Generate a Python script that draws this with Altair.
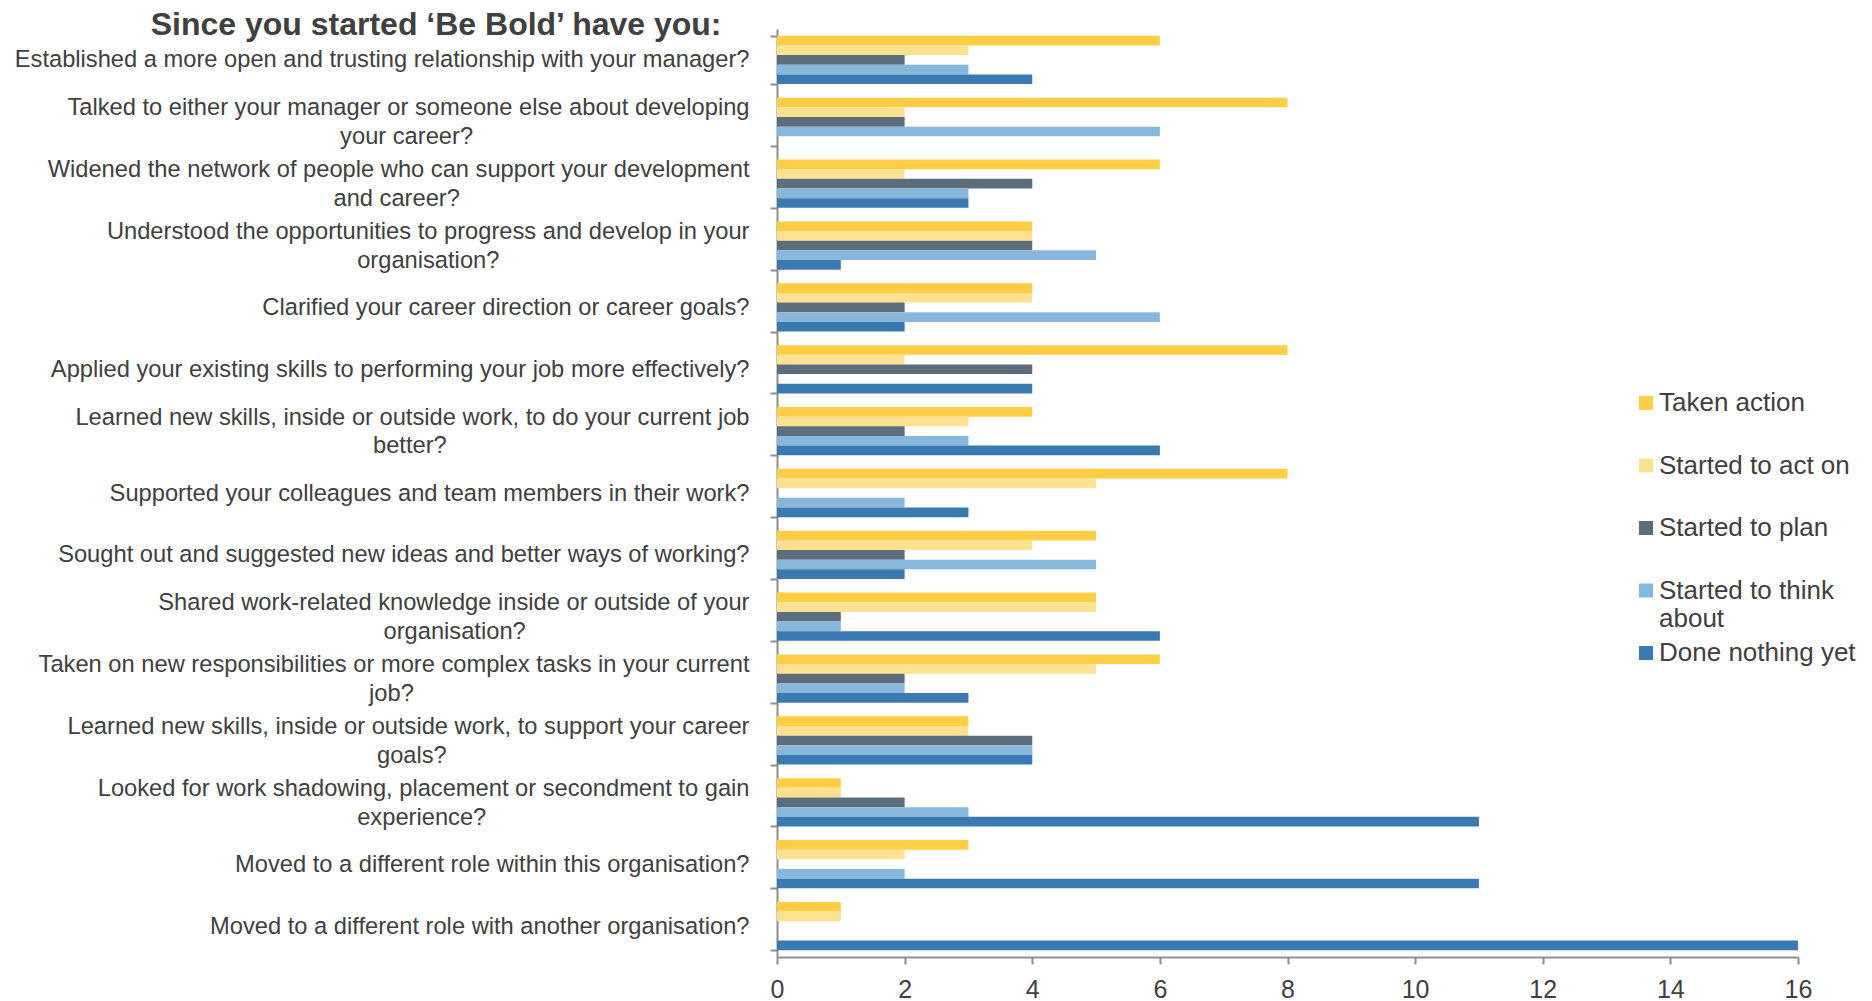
import altair as alt
import pandas as pd

# ---- data ----
question_lines = [
    ["Established a more open and trusting relationship with your manager?"],
    ["Talked to either your manager or someone else about developing", "your career?"],
    ["Widened the network of people who can support your development", "and career?"],
    ["Understood the opportunities to progress and develop in your", "organisation?"],
    ["Clarified your career direction or career goals?"],
    ["Applied your existing skills to performing your job more effectively?"],
    ["Learned new skills, inside or outside work, to do your current job", "better?"],
    ["Supported your colleagues and team members in their work?"],
    ["Sought out and suggested new ideas and better ways of working?"],
    ["Shared work-related knowledge inside or outside of your", "organisation?"],
    ["Taken on new responsibilities or more complex tasks in your current", "job?"],
    ["Learned new skills, inside or outside work, to support your career", "goals?"],
    ["Looked for work shadowing, placement or secondment to gain", "experience?"],
    ["Moved to a different role within this organisation?"],
    ["Moved to a different role with another organisation?"],
]

series = ["Taken action", "Started to act on", "Started to plan",
          "Started to think about", "Done nothing yet"]
colors = ["#FFCE44", "#FEE291", "#5C6E7B", "#87B8DC", "#3A7AB0"]

taken_action = [6, 8, 6, 4, 4, 8, 4, 8, 5, 5, 6, 3, 1, 3, 1]
started_to_act_on = [3, 2, 2, 4, 4, 2, 3, 5, 4, 5, 5, 3, 1, 2, 1]
started_to_plan = [2, 2, 4, 4, 2, 4, 2, 0, 2, 1, 2, 4, 2, 0, 0]
started_to_think_about = [3, 6, 3, 5, 6, 0, 3, 2, 5, 1, 2, 4, 3, 2, 0]
done_nothing_yet = [4, 0, 3, 1, 2, 4, 6, 3, 2, 6, 3, 4, 11, 11, 16]

x_ticks = [0, 2, 4, 6, 8, 10, 12, 14, 16]

TITLE = "Since you started \u2018Be Bold\u2019 have you:"
FONT = "Liberation Sans"
TEXT = "#404040"
AXIS = "#8E8E8E"
LABEL_SIZE = 23.7
LINE_H = 28.7

# Arial / Liberation Sans advance widths (1/1000 em) used to centre the
# second line of wrapped labels under the first one.
ADV = {' ': 278, ',': 278, '-': 333, '?': 556,
       'a': 556, 'b': 556, 'c': 500, 'd': 556, 'e': 556, 'f': 278, 'g': 556,
       'h': 556, 'i': 222, 'j': 222, 'k': 500, 'l': 222, 'm': 833, 'n': 556,
       'o': 556, 'p': 556, 'q': 556, 'r': 333, 's': 500, 't': 278, 'u': 556,
       'v': 500, 'w': 722, 'x': 500, 'y': 500, 'z': 500,
       'A': 667, 'C': 722, 'E': 667, 'L': 556, 'M': 833, 'S': 667, 'T': 611,
       'U': 722, 'W': 944}


def em_width(s):
    return sum(ADV.get(c, 556) for c in s) / 1000.0


def make_label(lines):
    if len(lines) == 1:
        return lines[0]
    w1, w2 = em_width(lines[0]), em_width(lines[1])
    n = int(round((w1 - w2) / 2 / 0.278))
    # no-break spaces keep the short line centred; the zero-width space
    # stops them from being trimmed away
    return lines[0] + "|" + lines[1] + "\u00a0" * n + "\u200b"


labels = [make_label(l) for l in question_lines]
values = [taken_action, started_to_act_on, started_to_plan,
          started_to_think_about, done_nothing_yet]

rows = []
for s, vals in zip(series, values):
    for lab, v in zip(labels, vals):
        rows.append({"question": lab, "status": s, "count": v})
df = pd.DataFrame(rows)

chart = alt.Chart(df).mark_bar().encode(
    y=alt.Y("question:N", sort=labels,
            scale=alt.Scale(paddingInner=0.22, paddingOuter=0.11),
            axis=alt.Axis(
                title=TITLE, titleAngle=0, titleAlign="right",
                titleBaseline="alphabetic", titleX=-56, titleY=5,
                titleFont=FONT, titleFontSize=32, titleFontWeight="bold",
                titleColor=TEXT,
                labelExpr="split(datum.label, '|')",
                # two-line labels: shift the first line up half a line so
                # that the block is centred on the band
                labelBaseline={"condition": {"test": "indexof('' + datum.value, '|') >= 0",
                                             "value": "line-bottom"},
                               "value": "middle"},
                labelFont=FONT, labelFontSize=LABEL_SIZE, labelColor=TEXT,
                labelLimit=1000, labelPadding=21, labelLineHeight=LINE_H,
                tickBand="extent", tickSize=7, tickWidth=2, tickColor=AXIS,
                domainColor=AXIS, domainWidth=2, grid=False)),
    yOffset=alt.YOffset("status:N", sort=series,
                        scale=alt.Scale(paddingInner=0, paddingOuter=0)),
    x=alt.X("count:Q", scale=alt.Scale(domain=[0, 16], nice=False),
            axis=alt.Axis(title=None, values=x_ticks, grid=False,
                          labelFont=FONT, labelFontSize=25, labelColor=TEXT,
                          labelPadding=13, tickSize=7, tickWidth=2,
                          tickColor=AXIS, domainColor=AXIS, domainWidth=2,
                          labelFlush=False)),
    color=alt.Color("status:N", sort=series,
                    scale=alt.Scale(domain=series, range=colors),
                    legend=alt.Legend(
                        title=None, orient="none", legendX=856, legendY=361,
                        symbolType="square", symbolSize=196,
                        symbolStrokeWidth=0, labelFont=FONT,
                        labelFontSize=26, labelColor=TEXT, labelLimit=400,
                        labelOffset=0, rowPadding=8.5, padding=0,
                        gridAlign="all",
                        labelExpr="datum.label == 'Started to think about' ? ['Started to think', 'about'] : datum.label")),
).properties(
    width=1021, height=928,
    autosize=alt.AutoSizeParams(type="none"),
    padding={"left": 769, "top": 21, "right": 66, "bottom": 44},
).configure_view(stroke=None)

chart.save("out.html", embed_options={"renderer": "svg", "actions": False})
